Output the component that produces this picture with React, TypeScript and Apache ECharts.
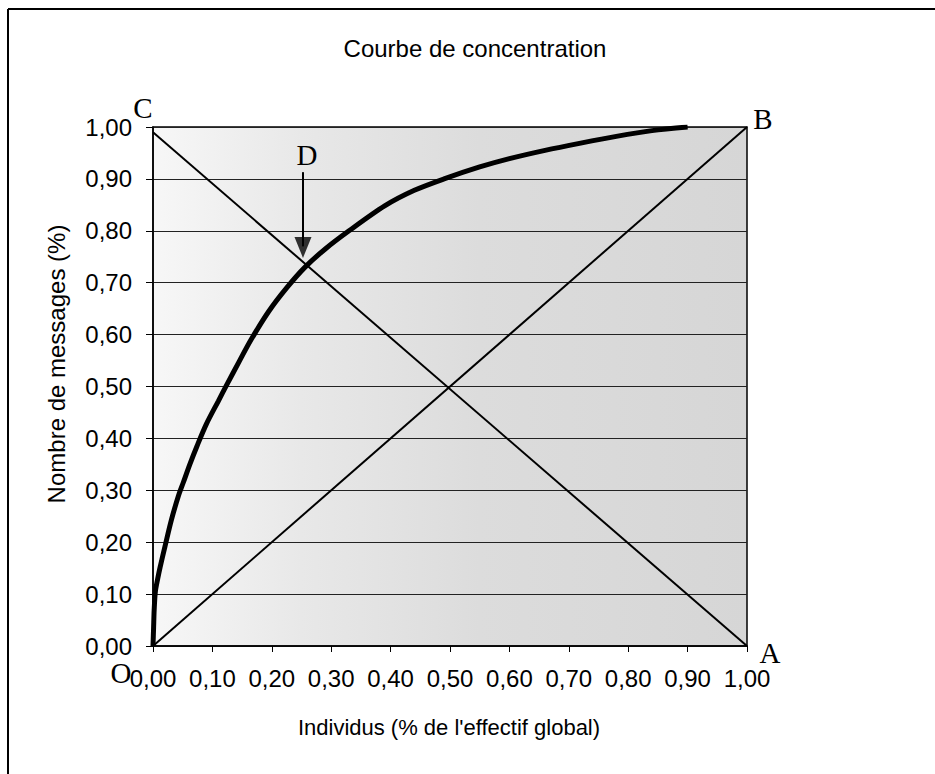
import React, { useEffect, useRef } from 'react';
import * as echarts from 'echarts';

const tickValues = [0, 0.1, 0.2, 0.3, 0.4, 0.5, 0.6, 0.7, 0.8, 0.9, 1.0];

// Concentration (Lorenz-type) curve
const curveX = [0, 0.001, 0.002, 0.004, 0.008, 0.012, 0.02, 0.031, 0.043, 0.051, 0.062, 0.074, 0.09, 0.11, 0.125, 0.145, 0.165, 0.195, 0.225, 0.256, 0.29, 0.33, 0.39, 0.44, 0.49, 0.55, 0.6, 0.66, 0.72, 0.78, 0.84, 0.9];
const curveY = [0, 0.035, 0.07, 0.105, 0.13, 0.152, 0.191, 0.243, 0.29, 0.315, 0.35, 0.385, 0.428, 0.472, 0.505, 0.548, 0.59, 0.645, 0.69, 0.73, 0.765, 0.8, 0.848, 0.878, 0.9, 0.923, 0.939, 0.955, 0.969, 0.982, 0.993, 1.0];

// Diagonals O-B and C-A
const diagOB = [[0, 0], [1, 1]];
const diagCA = [[0, 0.99], [1, 0]];

// Arrow from D to the crossing point
const arrowShaft = [[0.2525, 0.913], [0.2525, 0.77]];
const arrowHead = [[0.2525, 0.768]];

const fmt = (v: number) => v.toFixed(2).replace('.', ',');

export default function App() {
  const ref = useRef<HTMLDivElement>(null);
  useEffect(() => {
    const chart = echarts.init(ref.current!, null, { renderer: 'svg' });
    const sans = 'Liberation Sans, Arial, sans-serif';
    const serif = 'Liberation Serif, Times New Roman, serif';
    chart.setOption({
      animation: false,
      backgroundColor: '#ffffff',
      grid: {
        left: 153,
        top: 127,
        width: 594,
        height: 519,
        show: true,
        borderColor: '#000',
        borderWidth: 1.5,
        backgroundColor: new echarts.graphic.LinearGradient(0, 0, 1, 0, [
          { offset: 0, color: '#f7f7f7' },
          { offset: 0.25, color: '#e8e8e8' },
          { offset: 0.55, color: '#dcdcdc' },
          { offset: 1, color: '#d6d6d6' },
        ]),
      },
      xAxis: {
        type: 'value',
        min: 0,
        max: 1,
        interval: 0.1,
        axisLine: { show: true, lineStyle: { color: '#000', width: 1.5 } },
        axisTick: { show: true, length: 6, lineStyle: { color: '#000', width: 1 } },
        splitLine: { show: false },
        axisLabel: {
          formatter: (v: number) => fmt(v),
          fontSize: 24,
          fontFamily: sans,
          color: '#000',
          margin: 20,
        },
      },
      yAxis: {
        type: 'value',
        min: 0,
        max: 1,
        interval: 0.1,
        axisLine: { show: true, lineStyle: { color: '#000', width: 1.5 } },
        axisTick: { show: true, length: 7, lineStyle: { color: '#000', width: 1 } },
        splitLine: { show: true, lineStyle: { color: '#222', width: 1 } },
        axisLabel: {
          formatter: (v: number) => fmt(v),
          fontSize: 24,
          fontFamily: sans,
          color: '#000',
          margin: 21,
        },
      },
      series: [
        {
          type: 'line',
          data: diagOB,
          symbol: 'none',
          lineStyle: { color: '#000', width: 2 },
        },
        {
          type: 'line',
          data: diagCA,
          symbol: 'none',
          lineStyle: { color: '#000', width: 2 },
        },
        {
          type: 'line',
          data: curveX.map((x, i) => [x, curveY[i]]),
          symbol: 'none',
          smooth: 0.3,
          lineStyle: { color: '#000', width: 5 },
        },
        {
          type: 'line',
          data: arrowShaft,
          symbol: 'none',
          lineStyle: { color: '#000', width: 2 },
        },
        {
          type: 'scatter',
          data: arrowHead,
          symbol: 'triangle',
          symbolRotate: 180,
          symbolSize: [17, 21],
          itemStyle: { color: '#000' },
        },
      ],
      graphic: [
        { type: 'line', shape: { x1: 8, y1: 9, x2: 935, y2: 9 }, style: { stroke: '#000', lineWidth: 2 } },
        { type: 'line', shape: { x1: 8, y1: 9, x2: 8, y2: 774 }, style: { stroke: '#000', lineWidth: 2 } },
        {
          type: 'text', x: 475, y: 48,
          style: { text: 'Courbe de concentration', font: `24px ${sans}`, fill: '#000', align: 'center', verticalAlign: 'middle' },
        },
        {
          type: 'text', x: 449, y: 727,
          style: { text: "Individus (% de l'effectif global)", font: `22px ${sans}`, fill: '#000', align: 'center', verticalAlign: 'middle' },
        },
        {
          type: 'text', x: 56, y: 364, rotation: Math.PI / 2,
          style: { text: 'Nombre de messages (%)', font: `24px ${sans}`, fill: '#000', align: 'center', verticalAlign: 'middle' },
        },
        { type: 'text', x: 143, y: 108, style: { text: 'C', font: `29px ${serif}`, fill: '#000', align: 'center', verticalAlign: 'middle' } },
        { type: 'text', x: 763, y: 119, style: { text: 'B', font: `29px ${serif}`, fill: '#000', align: 'center', verticalAlign: 'middle' } },
        { type: 'text', x: 770, y: 653, style: { text: 'A', font: `29px ${serif}`, fill: '#000', align: 'center', verticalAlign: 'middle' } },
        { type: 'text', x: 307, y: 155, style: { text: 'D', font: `29px ${serif}`, fill: '#000', align: 'center', verticalAlign: 'middle' } },
        { type: 'text', x: 121, y: 673, style: { text: 'O', font: `29px ${serif}`, fill: '#000', align: 'center', verticalAlign: 'middle' } },
      ],
    });
    return () => chart.dispose();
  }, []);
  return (
    <div
      ref={ref}
      style={{ position: 'absolute', left: 0, top: 0, width: 935, height: 774, background: '#fff' }}
    />
  );
}
